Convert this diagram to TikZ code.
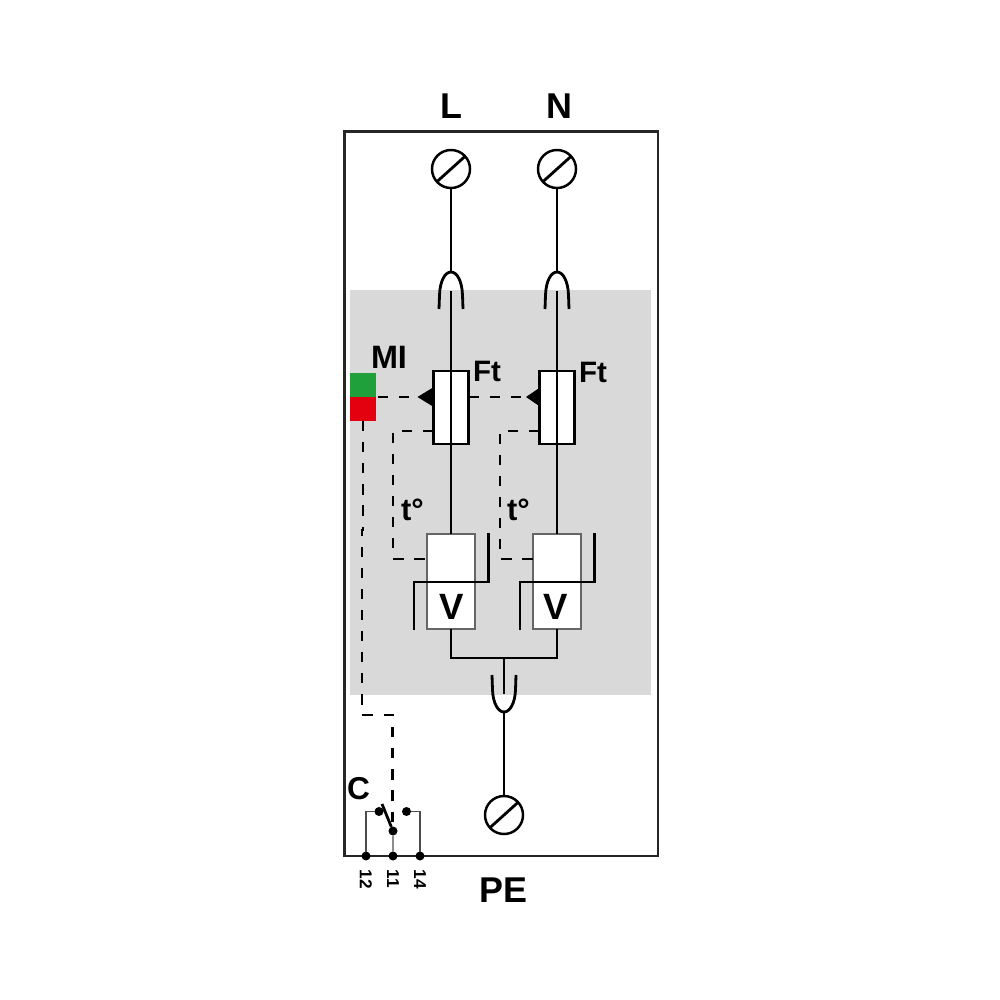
\documentclass[tikz,border=0pt]{standalone}
\usepackage{fontspec}
\setmainfont{Liberation Sans}
\definecolor{panel}{HTML}{D9D9D9}
\definecolor{frameblack}{HTML}{262626}
\definecolor{okgreen}{HTML}{1FA03A}
\definecolor{alarmred}{HTML}{E3000F}
\newcommand{\lab}[1]{\fontsize{#1}{#1}\selectfont\bfseries}
\tikzset{
  wire/.style={line width=0.8pt,draw=black,line join=miter},
  ctl/.style={line width=0.8pt,draw=black,dash pattern=on 2.9pt off 3.1pt},
  thin wire/.style={line width=0.55pt,draw=black!70},
  terminal/.style={circle,draw=black,line width=0.7pt,fill=white,minimum size=0.38cm,inner sep=0pt,outer sep=0pt},
  fusebox/.style={rectangle,draw=black,line width=0.7pt,fill=white,minimum width=0.35cm,minimum height=0.73cm,inner sep=0pt,outer sep=0pt},
  varbox/.style={rectangle,draw=black!60,line width=0.45pt,fill=white,minimum width=0.478cm,minimum height=0.95cm,inner sep=0pt,outer sep=0pt},
  dot/.style={circle,fill=black,minimum size=0.09cm,inner sep=0pt,outer sep=0pt},
  tag/.style={inner sep=0pt,outer sep=0pt,text=black},
  mark tri/.style={fill=black,draw=none}
}
\begin{document}
\begin{tikzpicture}[x=0.01cm,y=-0.01cm]
\useasboundingbox (0,0) rectangle (1000,1000);
\fill[white] (0,0) rectangle (1000,1000);
% panel and frame
\fill[panel] (350,290) rectangle (651,695);
\draw[line width=0.72pt,draw=frameblack] (344.5,131.5) rectangle (658,856);
% indicator
\node[rectangle,fill=okgreen,minimum width=0.26cm,minimum height=0.24cm,inner sep=0pt,outer sep=0pt] (MG) at (363,385) {};
\node[rectangle,fill=alarmred,minimum width=0.26cm,minimum height=0.24cm,inner sep=0pt,outer sep=0pt] (MR) at (363,409) {};
% boxes
\node[fusebox] (F1) at (451,407.5) {};
\node[fusebox] (F2) at (557,407.5) {};
\node[varbox] (V1) at (451,581.5) {};
\node[varbox] (V2) at (557,581.5) {};
% terminals
\node[terminal] (TL) at (451,169) {};
\node[terminal] (TN) at (557,169) {};
\node[terminal] (TP) at (504,815) {};
\draw[wire] (TL.222) -- (TL.42);
\draw[wire] (TN.222) -- (TN.42);
\draw[wire] (TP.222) -- (TP.42);
% named points
\coordinate (AL) at (451,272);
\coordinate (AN) at (557,272);
\coordinate (IL) at (451,291);
\coordinate (IN) at (557,291);
\coordinate (J1) at (451,658);
\coordinate (J2) at (557,658);
\coordinate (J0) at (504,658);
\coordinate (I0) at (504,694);
\coordinate (U0) at (504,712);
% feeds
\draw[wire] (TL.south) -- (AL);
\draw[wire] (TN.south) -- (AN);
\draw[wire] (IL) -- (V1.north);
\draw[wire] (IN) -- (V2.north);
\draw[wire] (AL) .. controls (445,272) and (440,281) .. (439.5,295) -- (439,309);
\draw[wire] (AL) .. controls (457,272) and (462,281) .. (462.5,295) -- (463,309);
\draw[wire] (AN) .. controls (551,272) and (546,281) .. (545.5,295) -- (545,309);
\draw[wire] (AN) .. controls (563,272) and (568,281) .. (568.5,295) -- (569,309);
% varistor bars
\coordinate (Z1a) at (414,630); \coordinate (Z1b) at (414,582);
\coordinate (Z1c) at (488.5,582); \coordinate (Z1d) at (488.5,533);
\coordinate (Z2a) at (520,630); \coordinate (Z2b) at (520,582);
\coordinate (Z2c) at (594.5,582); \coordinate (Z2d) at (594.5,533);
\draw[wire] (Z1a) -- (Z1b) -- (Z1c) -- (Z1d);
\draw[wire] (Z2a) -- (Z2b) -- (Z2c) -- (Z2d);
% bottom
\draw[wire] (V1.south) -- (J1) -- (J2) -- (V2.south);
\draw[wire] (J0) -- (I0);
\draw[wire] (U0) -- (TP.north);
\draw[wire] (492,675) -- (492.5,690) .. controls (493,703) and (498,712) .. (U0);
\draw[wire] (516,675) -- (515.5,690) .. controls (515,703) and (510,712) .. (U0);
% control lines
\coordinate (M1) at (418,397);
\coordinate (M2) at (527,397);
\draw[ctl] (378,397) -- (M1);
\draw[ctl] (F1.east |- M2) -- (M2);
\fill[mark tri] (417.5,397) -- (433,387.5) -- (433,406.5) -- cycle;
\fill[mark tri] (526,397) -- (540,387.5) -- (540,406.5) -- cycle;
\coordinate (S1) at (393,431); \coordinate (S2) at (393,559);
\coordinate (S3) at (500,431); \coordinate (S4) at (500,559);
\draw[ctl] (F1.west |- S1) -- (S1) -- (S2) -- (V1.west |- S2);
\draw[ctl] (F2.west |- S3) -- (S3) -- (S4) -- (V2.west |- S4);
\coordinate (K0) at (363,530); \coordinate (K1) at (362,715); \coordinate (K2) at (392.5,715); \coordinate (K3) at (392.5,826);
\draw[ctl] (MR.south) -- (K0) -- (K0 -| K1) -- (K1) -- (K2) -- (K3);
% contact
\node[dot] (C1) at (379,811.5) {};
\node[dot] (C2) at (406.5,811.5) {};
\node[dot] (C0) at (393,831) {};
\node[dot] (P12) at (366,856) {};
\node[dot] (P11) at (393,856) {};
\node[dot] (P14) at (420,856) {};
\draw[thin wire] (P12) |- (C1);
\draw[thin wire] (P14) |- (C2);
\draw[thin wire,draw=black!45] (P11) -- (C0);
\coordinate (BL) at (382,804);
\draw[wire] (C0) -- (BL);
% labels
\node[tag,font=\lab{10.2pt}] (tL) at (451,106.5) {L};
\node[tag,font=\lab{10.2pt}] (tN) at (559,106.5) {N};
\node[tag,font=\lab{10.2pt}] (tPE) at (503,890.5) {PE};
\node[tag,font=\lab{9pt}] (tC) at (358.5,788.5) {C};
\node[tag,font=\lab{9.2pt}] (tMI) at (389,357) {MI};
\node[tag,font=\lab{8.4pt}] (tF1) at (487,371.5) {Ft};
\node[tag,font=\lab{8.4pt}] (tF2) at (593,372.5) {Ft};
\node[tag,font=\lab{8.8pt}] (tT1) at (412.5,510) {t°};
\node[tag,font=\lab{8.8pt}] (tT2) at (518.5,510) {t°};
\node[tag,font=\lab{10.4pt}] (tV1) at (452,607) {V};
\node[tag,font=\lab{10.4pt}] (tV2) at (556,607) {V};
\node[tag,font=\lab{4.9pt},rotate=-90] (t12) at (366,879) {12};
\node[tag,font=\lab{4.9pt},rotate=-90] (t11) at (393,879) {11};
\node[tag,font=\lab{4.9pt},rotate=-90] (t14) at (420,879) {14};
\end{tikzpicture}
\end{document}
